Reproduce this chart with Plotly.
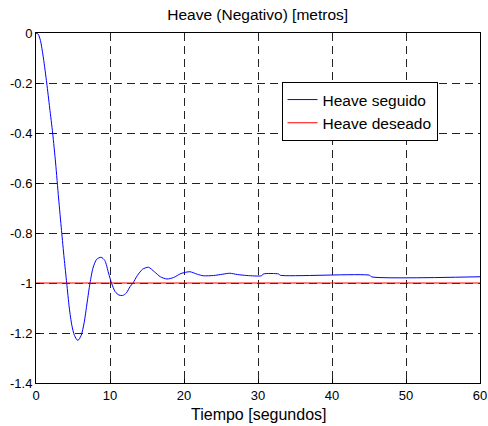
import plotly.graph_objects as go

# Data
t_seguido = [0, 0.3, 0.6, 1.0, 1.45, 1.85, 2.25, 2.65, 3.05, 3.45, 3.8, 4.15, 4.5, 4.85,
             5.2, 5.65, 6.1, 6.5, 6.9, 7.3, 7.7, 8.2, 8.8, 9.3, 9.8, 10.2, 10.7, 11.2,
             11.7, 12.2, 12.7, 13.1, 13.7, 14.4, 15.2, 16.0, 16.8, 17.7, 18.6, 19.6,
             20.8, 21.8, 22.6, 24.0, 25.2, 26.2, 27.2, 28.5, 30.5, 30.7, 32.8, 33.0,
             45.1, 45.3, 60]
y_seguido = [0, -0.005, -0.03, -0.10, -0.20, -0.30, -0.40, -0.52, -0.66, -0.79, -0.90,
             -1.0, -1.10, -1.17, -1.21, -1.23, -1.21, -1.16, -1.08, -1.0, -0.94, -0.905,
             -0.897, -0.91, -0.96, -1.0, -1.035, -1.048, -1.05, -1.04, -1.015, -1.0,
             -0.97, -0.945, -0.937, -0.955, -0.975, -0.984, -0.978, -0.962, -0.955,
             -0.965, -0.971, -0.970, -0.965, -0.961, -0.966, -0.970, -0.971, -0.964,
             -0.964, -0.969, -0.969, -0.975, -0.975]
t_deseado = [0, 60]
y_deseado = [-1, -1]

x_ticks = [0, 10, 20, 30, 40, 50, 60]
y_ticks = [-1.4, -1.2, -1.0, -0.8, -0.6, -0.4, -0.2, 0]
y_ticktext = ["-1.4", "-1.2", "-1", "-0.8", "-0.6", "-0.4", "-0.2", "0"]

FONT = "Arial, 'Liberation Sans', sans-serif"

fig = go.Figure()
fig.add_trace(go.Scatter(x=t_seguido, y=y_seguido, mode="lines", name="Heave seguido",
                         line=dict(color="#0000ff", width=1, shape="spline", smoothing=0.7)))
fig.add_trace(go.Scatter(x=t_deseado, y=y_deseado, mode="lines", name="Heave deseado",
                         line=dict(color="#ff0000", width=1.2)))

axis_common = dict(showline=True, mirror=True, linecolor="black", linewidth=1,
                   ticks="inside", ticklen=4, tickcolor="black",
                   showgrid=True, gridcolor="#222222", gridwidth=1, griddash="8px,5px",
                   zeroline=False, layer="above traces",
                   tickfont=dict(family=FONT, size=13, color="black"))

fig.update_layout(
    width=488, height=426,
    margin=dict(l=36, r=8, t=33, b=43),
    paper_bgcolor="white", plot_bgcolor="white",
    title=dict(text="Heave (Negativo) [metros]", x=0.528, xanchor="center",
               y=1 - 15 / 426, yanchor="middle", yref="container",
               font=dict(family=FONT, size=15.5, color="black")),
    xaxis=dict(range=[0, 60], tickvals=x_ticks, automargin=False, **axis_common),
    yaxis=dict(range=[-1.4, 0], tickvals=y_ticks, ticktext=y_ticktext, automargin=False,
               **axis_common),
    legend=dict(x=0.553, y=0.860, xanchor="left", yanchor="top",
                bgcolor="white", bordercolor="black", borderwidth=1,
                font=dict(family=FONT, size=15.5, color="black"),
                tracegroupgap=0, itemwidth=30),
    showlegend=True,
    annotations=[dict(text="Tiempo [segundos]", xref="paper", yref="paper",
                      x=0.5, y=-0.091, xanchor="center", yanchor="middle",
                      showarrow=False, font=dict(family=FONT, size=16, color="black"))],
)

fig.write_html("out.html", config={"displayModeBar": False},
               post_script="document.body.style.margin='0';document.body.style.padding='0';")
